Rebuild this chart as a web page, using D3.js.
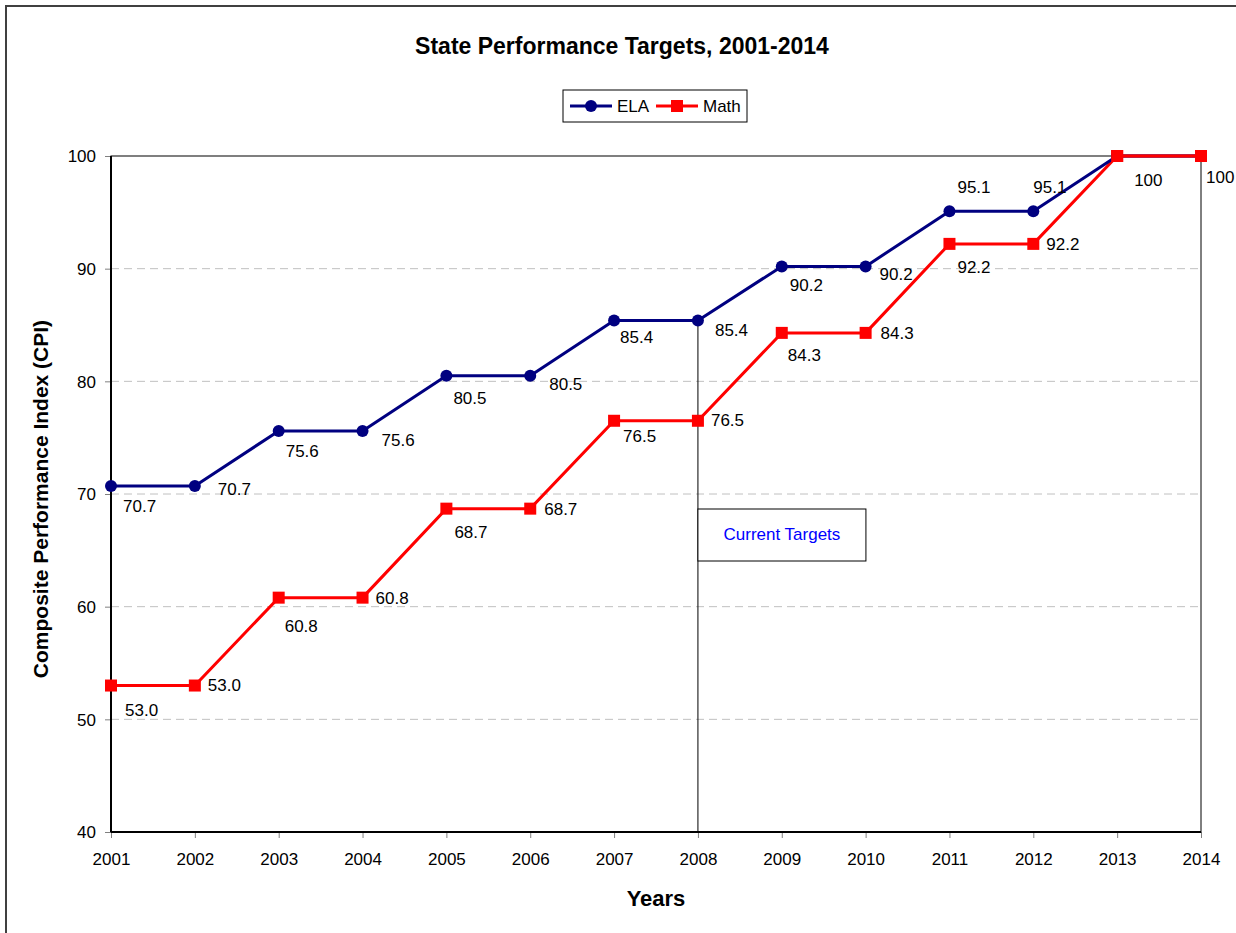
<!DOCTYPE html>
<meta charset="utf-8">
<style>
body { margin: 0; background: #fff; }
text { font-family: "Liberation Sans", Arial, sans-serif; fill: #000; }
.grid line { stroke: #c0c0c0; stroke-dasharray: 8,5; }
.axis path { display: none; }
.axis line { stroke: #808080; }
.axis text { font-size: 17px; }
.lbl { font-size: 17px; }
</style>
<body>
<script src="https://d3js.org/d3.v7.min.js"></script>
<script>

// data
var years = ["2001","2002","2003","2004","2005","2006","2007","2008","2009","2010","2011","2012","2013","2014"];
var ela  = [70.7,70.7,75.6,75.6,80.5,80.5,85.4,85.4,90.2,90.2,95.1,95.1,100,100];
var math = [53.0,53.0,60.8,60.8,68.7,68.7,76.5,76.5,84.3,84.3,92.2,92.2,100,100];
var yTicks = [40,50,60,70,80,90,100];

// label offsets (dx to text start, dy to text middle); null = no label
var elaOff = [[12,20],[23,3],[7,20],[19,9],[7,22],[19,8],[6,17],[17,10],[8,19],[14,8],[8,-24],[0,-24],null,null];
var mathOff = [[14,25],[13,0],[6,28],[13,0],[8,23],[14,0],[9,15],[13,-1],[6,22],[15,0],[8,23],[13,0],[17,24],[5,21]];

var W = 1236, H = 933;
var svg = d3.select("body").append("svg")
  .attr("width", W).attr("height", H);

// outer chart border
svg.append("rect")
  .attr("x", 6).attr("y", 6).attr("width", W + 20).attr("height", H + 20)
  .attr("fill", "none").attr("stroke", "#404040").attr("stroke-width", 2);

var x = d3.scalePoint().domain(years).range([111, 1201]);
var y = d3.scaleLinear().domain([40, 100]).range([832, 156]);

// gridlines
svg.append("g").attr("class", "grid")
  .selectAll("line")
  .data(yTicks.filter(function(d) { return d > 40 && d < 100; }))
  .enter().append("line")
    .attr("x1", 111).attr("x2", 1201)
    .attr("y1", function(d) { return y(d); })
    .attr("y2", function(d) { return y(d); });

// axes
svg.append("g").attr("class", "axis")
  .attr("transform", "translate(111,0)")
  .call(d3.axisLeft(y).tickValues(yTicks).tickSize(6).tickPadding(9))
  .selectAll("text").attr("dy", "0.35em");

svg.append("g").attr("class", "axis")
  .attr("transform", "translate(0,832)")
  .call(d3.axisBottom(x).tickSize(6).tickPadding(15));

// plot frame
svg.append("rect")
  .attr("x", 111).attr("y", 156).attr("width", 1201 - 111).attr("height", 832 - 156)
  .attr("fill", "none").attr("stroke", "#000").attr("stroke-width", 1);
svg.append("line").attr("x1", 111).attr("x2", 111).attr("y1", 156).attr("y2", 832)
  .attr("stroke", "#000").attr("stroke-width", 2);
svg.append("line").attr("x1", 111).attr("x2", 1201).attr("y1", 832).attr("y2", 832)
  .attr("stroke", "#000").attr("stroke-width", 2);

// current targets marker line
svg.append("line")
  .attr("x1", x("2008")).attr("x2", x("2008"))
  .attr("y1", y(ela[7])).attr("y2", 832)
  .attr("stroke", "#000").attr("stroke-width", 1);

svg.append("rect")
  .attr("x", x("2008")).attr("y", 509).attr("width", 168).attr("height", 52)
  .attr("fill", "#fff").attr("stroke", "#000").attr("stroke-width", 1);
svg.append("text")
  .attr("x", x("2008") + 84).attr("y", 534).attr("dy", "0.35em")
  .attr("text-anchor", "middle").style("font-size", "17px").style("fill", "#0000ff")
  .text("Current Targets");

var line = function(vals) {
  return d3.line()
    .x(function(d, i) { return x(years[i]); })
    .y(function(d) { return y(d); })(vals);
};

// math series
svg.append("path").attr("d", line(math))
  .attr("fill", "none").attr("stroke", "#ff0000").attr("stroke-width", 3);
svg.selectAll(".msq").data(math).enter().append("rect")
  .attr("class", "msq")
  .attr("x", function(d, i) { return x(years[i]) - 6; })
  .attr("y", function(d) { return y(d) - 6; })
  .attr("width", 12).attr("height", 12).attr("fill", "#ff0000");

// ela series
svg.append("path").attr("d", line(ela))
  .attr("fill", "none").attr("stroke", "#000080").attr("stroke-width", 3);
svg.selectAll(".edot").data(ela).enter().append("circle")
  .attr("class", "edot")
  .attr("cx", function(d, i) { return x(years[i]); })
  .attr("cy", function(d) { return y(d); })
  .attr("r", 6).attr("fill", "#000080");

// math squares drawn over ela at 2013/2014
svg.selectAll(".msq2").data(math.slice(12)).enter().append("rect")
  .attr("x", function(d, i) { return x(years[i + 12]) - 6; })
  .attr("y", function(d) { return y(d) - 6; })
  .attr("width", 12).attr("height", 12).attr("fill", "#ff0000");
svg.append("line")
  .attr("x1", x("2013")).attr("x2", x("2014"))
  .attr("y1", y(100)).attr("y2", y(100))
  .attr("stroke", "#ff0000").attr("stroke-width", 3);

var fmt = function(v) { return v === 100 ? "100" : d3.format(".1f")(v); };

function labels(vals, off) {
  svg.append("g").selectAll("text")
    .data(vals.map(function(v, i) { return {v: v, i: i, o: off[i]}; })
      .filter(function(d) { return d.o; }))
    .enter().append("text")
      .attr("class", "lbl")
      .attr("x", function(d) { return x(years[d.i]) + d.o[0]; })
      .attr("y", function(d) { return y(d.v) + d.o[1]; })
      .attr("dy", "0.35em")
      .text(function(d) { return fmt(d.v); });
}
labels(ela, elaOff);
labels(math, mathOff);

// title
svg.append("text")
  .attr("x", 622).attr("y", 46).attr("dy", "0.35em")
  .attr("text-anchor", "middle")
  .style("font-size", "23px").style("font-weight", "bold")
  .text("State Performance Targets, 2001-2014");

// axis titles
svg.append("text")
  .attr("x", 656).attr("y", 898).attr("dy", "0.35em")
  .attr("text-anchor", "middle")
  .style("font-size", "22px").style("font-weight", "bold")
  .text("Years");

svg.append("text")
  .attr("transform", "translate(41,499) rotate(-90)")
  .attr("dy", "0.35em")
  .attr("text-anchor", "middle")
  .style("font-size", "21px").style("font-weight", "bold")
  .text("Composite Performance Index (CPI)");

// legend
var lg = svg.append("g");
lg.append("rect")
  .attr("x", 563).attr("y", 90).attr("width", 184).attr("height", 32)
  .attr("fill", "#fff").attr("stroke", "#000").attr("stroke-width", 1);
var legendItems = [
  {name: "ELA", color: "#000080", shape: "circle", x: 570},
  {name: "Math", color: "#ff0000", shape: "square", x: 656}
];
legendItems.forEach(function(d) {
  lg.append("line").attr("x1", d.x).attr("x2", d.x + 42)
    .attr("y1", 106).attr("y2", 106)
    .attr("stroke", d.color).attr("stroke-width", 3);
  if (d.shape === "circle") {
    lg.append("circle").attr("cx", d.x + 21).attr("cy", 106).attr("r", 6).attr("fill", d.color);
  } else {
    lg.append("rect").attr("x", d.x + 15).attr("y", 100).attr("width", 12).attr("height", 12).attr("fill", d.color);
  }
  lg.append("text").attr("x", d.x + 47).attr("y", 106).attr("dy", "0.35em")
    .style("font-size", "17px").text(d.name);
});

</script>
</body>
